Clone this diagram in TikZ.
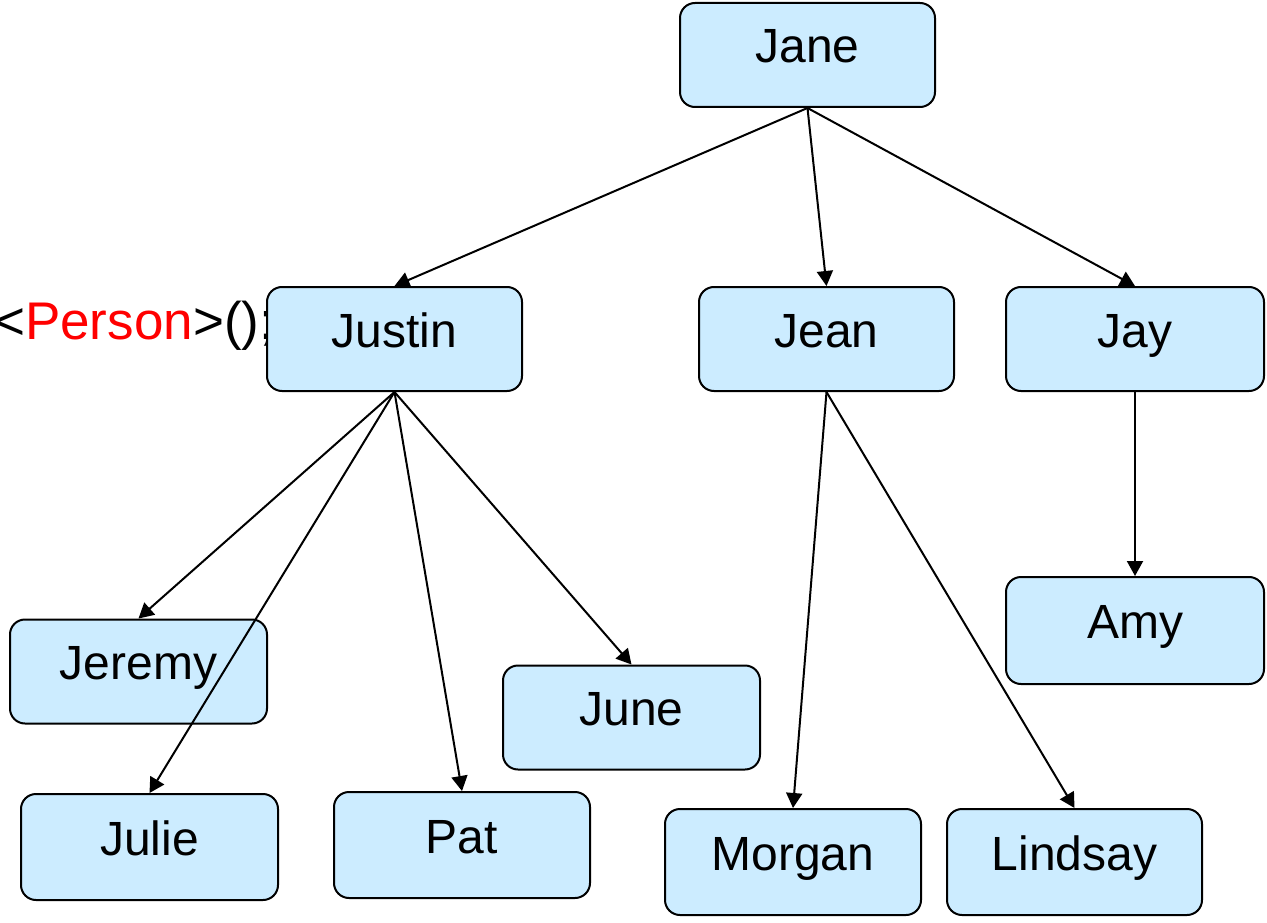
\documentclass[tikz,border=0pt]{standalone}
\usepackage{fontspec}
\setmainfont{Liberation Sans}
\usetikzlibrary{arrows.meta}
\definecolor{boxfill}{RGB}{204,236,255}
\definecolor{typered}{RGB}{255,0,0}
\tikzset{
  person/.style={draw=black, line width=2pt, fill=boxfill, rounded corners=15pt,
    minimum width=255pt, minimum height=104pt, inner sep=0pt,
    font=\fontsize{48}{48}\selectfont, text height=35pt, text depth=19pt},
  link/.style={line width=2pt, -{Triangle[length=15pt,width=16pt]}}
}
\begin{document}
\begin{tikzpicture}[x=1pt,y=-1pt]
\useasboundingbox (0,0) rectangle (1267,923);
% code fragment partly hidden behind the boxes
\node[anchor=base west, inner sep=0pt, font=\fontsize{53}{53}\selectfont] (code) at (-6,339)
  {<\textcolor{typered}{Person}>();};
% people
\node[person] (jane) at (807.5,55) {Jane};
\node[person] (justin) at (394.5,339) {Justin};
\node[person] (jean) at (826.5,339) {Jean};
\node[person, minimum width=258pt] (jay) at (1135,339) {Jay};
\node[person, minimum width=257pt] (jeremy) at (138.5,671.5) {Jeremy};
\node[person, minimum width=257pt] (june) at (631.5,717.5) {June};
\node[person, minimum width=258pt, minimum height=107pt] (amy) at (1135,630.5) {Amy};
\node[person, minimum width=257pt, minimum height=106pt] (julie) at (149.5,847) {Julie};
\node[person, minimum width=256pt, minimum height=106pt] (pat) at (462,845) {Pat};
\node[person, minimum width=256pt, minimum height=106pt] (morgan) at (793,862) {Morgan};
\node[person, minimum width=255pt, minimum height=106pt] (lindsay) at (1074.5,862) {Lindsay};
% parent-child links
\draw[link] (jane.south) -- (justin.north);
\draw[link] (jane.south) -- (jean.north);
\draw[link] (jane.south) -- (jay.north);
\draw[link] (justin.south) -- (jeremy.north);
\draw[link] (justin.south) -- (julie.north);
\draw[link] (justin.south) -- (pat.north);
\draw[link] (justin.south) -- (june.north);
\draw[link] (jean.south) -- (morgan.north);
\draw[link] (jean.south) -- (lindsay.north);
\draw[link] (jay.south) -- (amy.north);
\end{tikzpicture}
\end{document}
